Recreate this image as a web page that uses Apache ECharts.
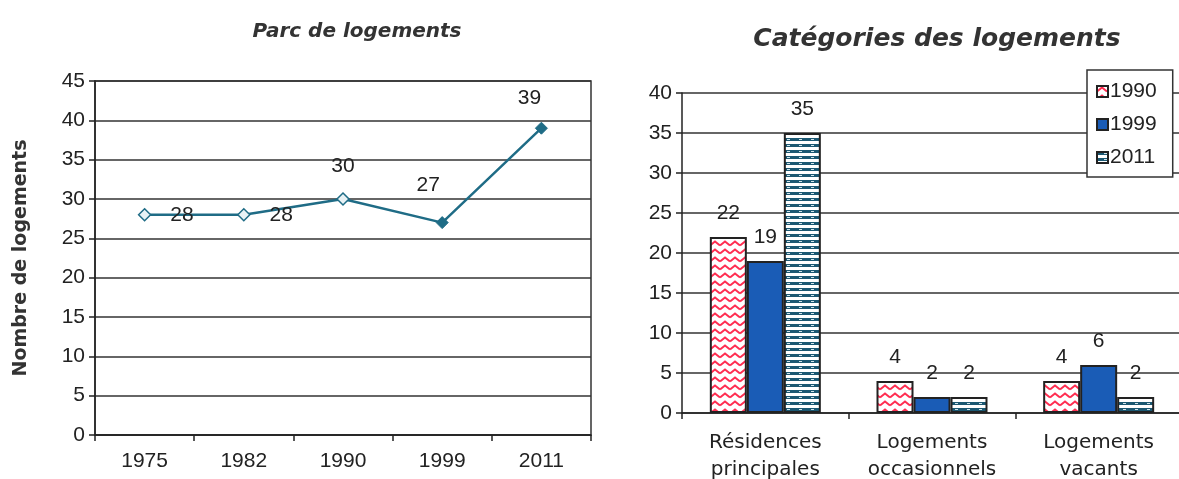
<!DOCTYPE html>
<html>
<head>
<meta charset="utf-8">
<script src="https://cdn.jsdelivr.net/npm/echarts@6/dist/echarts.min.js"></script>
<style>
  html, body { margin: 0; padding: 0; background: #fff; }
  #chart { width: 1179px; height: 479px; }
</style>
</head>
<body>
<div id="chart"></div>
<script>
// left chart: parc de logements
const years = ['1975', '1982', '1990', '1999', '2011'];
const parc = [28, 28, 30, 27, 39];

// right chart: catégories des logements
const categories = ['Résidences\nprincipales', 'Logements\noccasionnels', 'Logements\nvacants'];
const series1990 = [22, 4, 4];
const series1999 = [19, 2, 6];
const series2011 = [35, 2, 2];

const wide = '"DejaVu Sans", Arial, sans-serif';
const font = 'Arial, "Liberation Sans", sans-serif';
const lineColor = '#1f6c86';

// label placement for each point of the line (style only)
const pointLabels = [
  { position: 'right', distance: 19 },
  { position: 'right', distance: 19 },
  { position: 'top', distance: 16 },
  { position: 'top', distance: 20, offset: [-14, 0] },
  { position: 'top', distance: 13, offset: [-12, 0] }
];
const hollow = [true, true, true, false, false];

function zigzag() {
  const c = document.createElement('canvas');
  c.width = 10; c.height = 8;
  const g = c.getContext('2d');
  g.fillStyle = '#fff';
  g.fillRect(0, 0, 10, 8);
  g.strokeStyle = '#ff2d50';
  g.lineWidth = 2;
  g.beginPath();
  g.moveTo(0, 5.5); g.lineTo(5, 1.5); g.lineTo(10, 5.5);
  g.stroke();
  return { image: c, repeat: 'repeat' };
}

function stripes() {
  const c = document.createElement('canvas');
  c.width = 12; c.height = 6;
  const g = c.getContext('2d');
  g.fillStyle = '#fff';
  g.fillRect(0, 0, 12, 6);
  g.fillStyle = '#1b5872';
  g.fillRect(0, 0, 12, 3);
  g.fillStyle = '#cfe3ea';
  g.fillRect(7, 1, 3, 1);
  return { image: c, repeat: 'repeat' };
}

const chart = echarts.init(document.getElementById('chart'));

const barLabel = {
  show: true, position: 'top', distance: 13,
  fontFamily: font, fontSize: 21, color: '#222'
};

chart.setOption({
  backgroundColor: '#fff',
  animation: false,
  title: [
    {
      text: 'Parc de logements', left: 352, top: 17, textAlign: 'center',
      textStyle: { fontFamily: wide, fontSize: 20, fontWeight: 'bold', fontStyle: 'italic', color: '#333' }
    },
    {
      text: 'Catégories des logements', left: 932, top: 22, textAlign: 'center',
      textStyle: { fontFamily: wide, fontSize: 25, fontWeight: 'bold', fontStyle: 'italic', color: '#333' }
    }
  ],
  legend: {
    data: ['1990', '1999', '2011'],
    orient: 'vertical',
    left: 1087, top: 70,
    padding: [11, 16, 9, 9],
    itemGap: 12,
    itemWidth: 11, itemHeight: 11,
    icon: 'rect',
    borderColor: '#333', borderWidth: 1.5,
    backgroundColor: '#fff',
    textStyle: { fontFamily: font, fontSize: 21, color: '#222', padding: [0, 0, 0, -3] }
  },
  grid: [
    { left: 95, top: 81, right: 588, bottom: 44, outerBoundsMode: 'none', show: true, borderColor: '#333', borderWidth: 1.5, backgroundColor: 'transparent' },
    { left: 682, top: 93, right: -3, bottom: 66, outerBoundsMode: 'none' }
  ],
  xAxis: [
    {
      gridIndex: 0, type: 'category', data: years, boundaryGap: true,
      axisLine: { lineStyle: { color: '#222', width: 1.5 } },
      axisTick: { show: true, length: 6, lineStyle: { color: '#222', width: 1.5 } },
      axisLabel: { fontFamily: font, fontSize: 21, color: '#222', margin: 16 }
    },
    {
      gridIndex: 1, type: 'category', data: categories, boundaryGap: true,
      axisLine: { lineStyle: { color: '#222', width: 1.5 } },
      axisTick: { show: true, length: 6, lineStyle: { color: '#222', width: 1.5 } },
      axisLabel: { fontFamily: wide, fontSize: 20, color: '#222', margin: 16, lineHeight: 27, interval: 0 }
    }
  ],
  yAxis: [
    {
      gridIndex: 0, type: 'value', min: 0, max: 45, interval: 5,
      name: 'Nombre de logements', nameLocation: 'middle', nameRotate: 90, nameGap: 64,
      nameTextStyle: { fontFamily: wide, fontSize: 19, fontWeight: 'bold', color: '#333' },
      axisLine: { show: true, lineStyle: { color: '#222', width: 1.5 } },
      axisTick: { show: true, length: 6, lineStyle: { color: '#222', width: 1.5 } },
      axisLabel: { fontFamily: font, fontSize: 21, color: '#222', margin: 10 },
      splitLine: { lineStyle: { color: '#333', width: 1.5 } }
    },
    {
      gridIndex: 1, type: 'value', min: 0, max: 40, interval: 5,
      axisLine: { show: true, lineStyle: { color: '#222', width: 1.5 } },
      axisTick: { show: true, length: 6, lineStyle: { color: '#222', width: 1.5 } },
      axisLabel: { fontFamily: font, fontSize: 21, color: '#222', margin: 10 },
      splitLine: { lineStyle: { color: '#333', width: 1.5 } }
    }
  ],
  series: [
    {
      name: 'Parc', type: 'line', xAxisIndex: 0, yAxisIndex: 0,
      data: parc.map((v, i) => ({
        value: v,
        itemStyle: hollow[i]
          ? { color: '#e8f2f5', borderColor: lineColor, borderWidth: 1.5 }
          : { color: lineColor, borderColor: lineColor, borderWidth: 1 },
        label: Object.assign({ show: true }, pointLabels[i])
      })),
      symbol: 'diamond', symbolSize: 12,
      lineStyle: { color: lineColor, width: 2.5 },
      label: { fontFamily: font, fontSize: 21, color: '#222' }
    },
    {
      name: '1990', type: 'bar', xAxisIndex: 1, yAxisIndex: 1, data: series1990,
      barWidth: 37, barGap: '0%',
      itemStyle: { color: zigzag(), borderColor: '#222', borderWidth: 2 },
      label: barLabel
    },
    {
      name: '1999', type: 'bar', xAxisIndex: 1, yAxisIndex: 1, data: series1999,
      barWidth: 37, barGap: '0%',
      itemStyle: { color: '#1a5cb6', borderColor: '#222', borderWidth: 2 },
      label: barLabel
    },
    {
      name: '2011', type: 'bar', xAxisIndex: 1, yAxisIndex: 1, data: series2011,
      barWidth: 37, barGap: '0%',
      itemStyle: { color: stripes(), borderColor: '#222', borderWidth: 2 },
      label: barLabel
    }
  ]
});
</script>
</body>
</html>
